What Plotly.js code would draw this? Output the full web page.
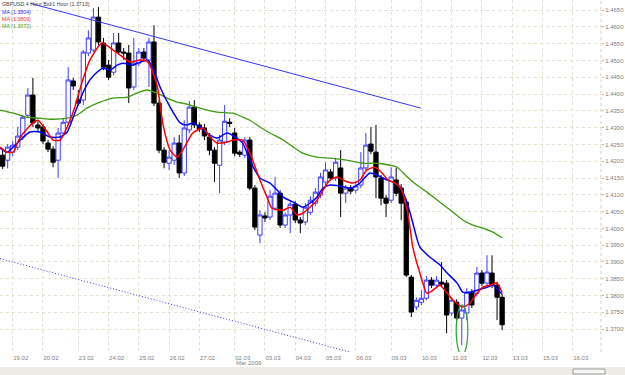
<!DOCTYPE html>
<html><head><meta charset="utf-8">
<script src="https://cdn.plot.ly/plotly-3.0.1.min.js"></script>
<style>html,body{margin:0;padding:0;background:#fff;}#chart{width:625px;height:375px;}</style>
</head><body><div id="chart"></div>
<script>
// ---- candle data (GBPUSD 4h) ----
const openP = [1.4218,1.4203,1.4227,1.4242,1.4272,1.4337,1.4397,1.4308,1.4302,1.4254,
 1.4236,1.4203,1.4284,1.4316,1.4439,1.4382,1.4382,1.4522,1.4531,1.4629,
 1.4552,1.4486,1.4465,1.4552,1.4525,1.4522,1.4421,1.4492,1.4525,1.4501,
 1.4555,1.4373,1.4233,1.4194,1.4203,1.4254,1.4165,1.4293,1.4361,1.4308,
 1.4299,1.4272,1.4233,1.4188,1.4257,1.4316,1.4284,1.4227,1.4218,1.4263,
 1.4120,1.3980,1.4037,1.4034,1.4060,1.4105,1.4010,1.4040,1.4072,1.4025,
 1.4019,1.4048,1.4075,1.4099,1.4138,1.4168,1.4150,1.4180,1.4105,1.4120,
 1.4114,1.4129,1.4180,1.4251,1.4227,1.4150,1.4090,1.4084,1.4144,1.4120,
 1.4078,1.3855,1.3766,1.3780,1.3792,1.3846,1.3831,1.3840,1.3837,1.3748,
 1.3780,1.3733,1.3748,1.3810,1.3807,1.3867,1.3837,1.3867,1.3831,1.3795];
const highP = [1.4233,1.4251,1.4260,1.4302,1.4337,1.4418,1.4448,1.4319,1.4311,1.4263,
 1.4245,1.4299,1.4328,1.4480,1.4448,1.4412,1.4531,1.4590,1.4656,1.4659,
 1.4567,1.4501,1.4582,1.4582,1.4537,1.4546,1.4567,1.4537,1.4537,1.4567,
 1.4605,1.4382,1.4242,1.4233,1.4272,1.4278,1.4322,1.4379,1.4382,1.4316,
 1.4311,1.4284,1.4242,1.4278,1.4367,1.4328,1.4299,1.4233,1.4272,1.4272,
 1.4129,1.4054,1.4048,1.4114,1.4153,1.4114,1.4048,1.4084,1.4081,1.4034,
 1.4075,1.4096,1.4120,1.4165,1.4197,1.4177,1.4209,1.4233,1.4129,1.4129,
 1.4138,1.4227,1.4284,1.4302,1.4308,1.4159,1.4099,1.4182,1.4180,1.4132,
 1.4087,1.3861,1.3795,1.3816,1.3858,1.3855,1.3858,1.3900,1.3846,1.3795,
 1.3789,1.3772,1.3822,1.3819,1.3885,1.3876,1.3920,1.3920,1.3840,1.3804];
const lowP = [1.4177,1.4179,1.4215,1.4233,1.4263,1.4328,1.4302,1.4287,1.4251,1.4227,
 1.4182,1.4150,1.4275,1.4308,1.4412,1.4364,1.4367,1.4513,1.4525,1.4546,
 1.4471,1.4442,1.4456,1.4516,1.4501,1.4373,1.4412,1.4483,1.4495,1.4421,
 1.4364,1.4224,1.4179,1.4174,1.4188,1.4150,1.4156,1.4284,1.4299,1.4287,
 1.4263,1.4218,1.4138,1.4105,1.4248,1.4302,1.4215,1.4212,1.4209,1.4114,
 1.3995,1.3956,1.4019,1.4025,1.4054,1.4001,1.4001,1.3986,1.4016,1.3986,
 1.4010,1.4040,1.4066,1.4090,1.4129,1.4141,1.4141,1.4034,1.4075,1.4102,
 1.4105,1.4120,1.4174,1.4221,1.4090,1.4069,1.4034,1.4075,1.4096,1.4025,
 1.3855,1.3736,1.3757,1.3772,1.3786,1.3822,1.3822,1.3825,1.3688,1.3739,
 1.3721,1.3652,1.3727,1.3763,1.3798,1.3828,1.3828,1.3822,1.3727,1.3697];
const closeP = [1.4185,1.4242,1.4248,1.4275,1.4331,1.4397,1.4314,1.4299,1.4260,1.4236,
 1.4197,1.4284,1.4316,1.4442,1.4424,1.4373,1.4525,1.4567,1.4629,1.4555,
 1.4480,1.4450,1.4552,1.4525,1.4522,1.4418,1.4492,1.4525,1.4507,1.4555,
 1.4373,1.4233,1.4197,1.4212,1.4254,1.4165,1.4299,1.4361,1.4308,1.4296,
 1.4275,1.4233,1.4194,1.4263,1.4319,1.4313,1.4224,1.4221,1.4263,1.4120,
 1.4004,1.4040,1.4031,1.4096,1.4105,1.4010,1.4040,1.4072,1.4025,1.4016,
 1.4063,1.4084,1.4108,1.4153,1.4174,1.4150,1.4197,1.4105,1.4120,1.4111,
 1.4126,1.4180,1.4248,1.4230,1.4153,1.4090,1.4075,1.4153,1.4105,1.4075,
 1.3861,1.3751,1.3786,1.3792,1.3846,1.3831,1.3846,1.3834,1.3742,1.3786,
 1.3733,1.3757,1.3810,1.3772,1.3867,1.3837,1.3870,1.3831,1.3795,1.3713];

// ---- moving averages (bar index / price) ----
const blueMaX = [-0.5,0.9,2.1,3.5,5.4,7.4,9.4,11.4,12.8,14.3,15.9,17.3,18.7,19.9,21.3,22.7,23.9,25.8,27.2,28.8,30.2,31.2,33.2,35.2,36.5,37.7,39.1,40.5,42.5,44.5,46.4,47.6,49.0,51.0,53.0,54.4,55.6,57.6,59.5,60.9,62.3,63.5,64.9,66.9,68.9,70.8,72.8,74.2,76.2,77.4,78.8,80.2,81.3,82.7,84.7,86.7,88.1,90.1,91.2,92.6,94.0,96.0,97.2,97.9,99.0];
const blueMaY = [1.4239,1.4227,1.4242,1.4263,1.4287,1.4287,1.4272,1.4272,1.4287,1.4343,1.4403,1.4442,1.4465,1.4477,1.4471,1.4486,1.4492,1.4486,1.4495,1.4501,1.4462,1.4421,1.4361,1.4314,1.4308,1.4314,1.4302,1.4284,1.4269,1.4284,1.4269,1.4254,1.4203,1.4150,1.4135,1.4114,1.4093,1.4078,1.4063,1.4075,1.4093,1.4120,1.4129,1.4126,1.4120,1.4135,1.4165,1.4159,1.4144,1.4138,1.4123,1.4075,1.4016,1.3944,1.3914,1.3891,1.3867,1.3837,1.3810,1.3810,1.3816,1.3825,1.3831,1.3822,1.3804];
const redMaX = [-0.5,0.9,2.1,3.5,6.0,7.0,9.0,10.0,11.4,12.8,14.3,15.7,17.3,19.7,21.9,23.3,25.3,27.2,28.8,30.6,31.8,33.2,34.6,35.7,37.7,39.7,41.1,42.5,44.5,45.7,47.6,49.0,51.0,52.4,53.4,55.6,57.0,58.3,59.5,60.9,62.3,63.5,64.9,66.3,67.9,69.4,70.8,72.2,73.8,75.2,76.4,77.8,78.8,80.2,81.3,82.7,84.1,85.3,86.7,88.1,89.3,91.2,92.6,94.0,95.2,96.6,98.0,99.0];
const redMaY = [1.4242,1.4227,1.4227,1.4272,1.4314,1.4322,1.4284,1.4263,1.4263,1.4302,1.4361,1.4433,1.4501,1.4552,1.4531,1.4516,1.4495,1.4501,1.4495,1.4427,1.4308,1.4233,1.4212,1.4233,1.4284,1.4299,1.4272,1.4254,1.4257,1.4263,1.4263,1.4224,1.4144,1.4093,1.4060,1.4054,1.4063,1.4040,1.4045,1.4063,1.4084,1.4114,1.4144,1.4153,1.4141,1.4135,1.4144,1.4174,1.4182,1.4165,1.4144,1.4135,1.4123,1.4054,1.3944,1.3867,1.3807,1.3816,1.3831,1.3807,1.3786,1.3766,1.3778,1.3807,1.3825,1.3831,1.3837,1.3809];
const greenMaX = [-0.5,2.1,4.8,7.4,9.4,12.8,14.7,16.7,19.3,21.9,24.7,26.6,28.6,30.6,32.6,34.6,36.5,39.1,42.5,45.7,47.6,49.0,51.0,53.0,55.6,57.6,59.5,62.3,64.9,68.2,71.4,74.2,76.8,78.2,80.2,82.1,84.1,86.7,89.3,91.2,93.2,95.2,97.2,99.0];
const greenMaY = [1.4352,1.4343,1.4331,1.4328,1.4325,1.4328,1.4337,1.4358,1.4376,1.4388,1.4391,1.4403,1.4412,1.4403,1.4388,1.4376,1.4370,1.4358,1.4346,1.4343,1.4331,1.4322,1.4302,1.4284,1.4263,1.4242,1.4224,1.4212,1.4209,1.4203,1.4194,1.4194,1.4188,1.4182,1.4153,1.4129,1.4108,1.4078,1.4048,1.4025,1.4010,1.4001,1.3989,1.3972];

// ---- drawn objects: trend lines and ellipse (bar index / price) ----
const trendUpX = [5.5, 82.9];
const trendUpY = [1.4670, 1.4358];
const trendDnX = [-0.52, 68.8];
const trendDnY = [1.3910, 1.3632];
const ellipseX = [89.9, 92.2];
const ellipseY = [1.3772, 1.3623];

// ---- axis labels ----
const dayTickIdx = [2,8,15,21,27,33,39,46,52,58,64,70,77,83,89,95,101,107,113];
const dayTickText = ['19.02','20.02','23.02','24.02','25.02','26.02','27.02','02.03','03.03','04.03','05.03','06.03','09.03','10.03','11.03','12.03','13.03','15.03','16.03'];
const monthLabel = 'Mar 2009';
const monthLabelIdx = 46;
const priceTicks = [1.3700,1.3750,1.3800,1.3850,1.3900,1.3950,1.4000,1.4050,1.4100,1.4150,1.4200,1.4250,1.4300,1.4350,1.4400,1.4450,1.4500,1.4550,1.4600,1.4650];
const symbolTitle = 'GBPUSD,4 Hour Bid/1 Hour';

const barIdx = openP.map((_, i) => i);
const FONT = 'Liberation Sans, Arial, sans-serif';
const GRID = '#e4e1d2';

const traces = [
  {type:'candlestick', x:barIdx, open:openP, high:highP, low:lowP, close:closeP,
   increasing:{line:{color:'#3d3dff', width:1}, fillcolor:'#ffffff'},
   decreasing:{line:{color:'#000000', width:1}, fillcolor:'#000000'},
   whiskerwidth:0, hoverinfo:'skip'},
  {type:'scatter', mode:'lines', x:greenMaX, y:greenMaY, line:{color:'#3f9a10', width:1.3, shape:'spline', smoothing:0.6}, hoverinfo:'skip'},
  {type:'scatter', mode:'lines', x:blueMaX, y:blueMaY, line:{color:'#0000ff', width:1.5, shape:'spline', smoothing:0.6}, hoverinfo:'skip'},
  {type:'scatter', mode:'lines', x:redMaX, y:redMaY, line:{color:'#ff0000', width:1.5, shape:'spline', smoothing:0.6}, hoverinfo:'skip'},
  {type:'scatter', mode:'lines', x:trendUpX, y:trendUpY, line:{color:'#3535f5', width:1}, hoverinfo:'skip'},
  {type:'scatter', mode:'lines', x:trendDnX, y:trendDnY, line:{color:'#3535f5', width:1, dash:'1px,2px'}, hoverinfo:'skip'}
];

const lastOf = a => a[a.length-1].toFixed(4);
const legendLines = [
  {text: symbolTitle + ' (' + lastOf(closeP) + ')', color:'#444444', ypx:4},
  {text: 'MA (' + lastOf(blueMaY) + ')', color:'#2b2bff', ypx:11.5},
  {text: 'MA (' + lastOf(redMaY) + ')', color:'#f03030', ypx:18.5},
  {text: 'MA (' + lastOf(greenMaY) + ')', color:'#4e9e1a', ypx:25.5}
];
const PLOT_H = 352;

const annotations = legendLines.map(l => ({
  xref:'paper', yref:'paper', x:0.002, y:1 - l.ypx/PLOT_H, xanchor:'left', yanchor:'middle',
  text:l.text, showarrow:false, font:{family:FONT, size:5.3, color:l.color}, borderpad:0
}));
annotations.push({xref:'x', yref:'paper', x:monthLabelIdx, y:1 - 363/PLOT_H, xanchor:'left', yanchor:'middle', xshift:0,
  text:monthLabel, showarrow:false, font:{family:FONT, size:6, color:'#808080'}, borderpad:0});

const shapes = [
  {type:'circle', xref:'x', yref:'y', x0:ellipseX[0], x1:ellipseX[1], y0:ellipseY[0], y1:ellipseY[1], line:{color:'#2ea02e', width:1.2}},
  {type:'line', xref:'paper', yref:'paper', x0:1, x1:1, y0:0, y1:1, line:{color:'#d0d0c8', width:1, dash:'dot'}},
  {type:'rect', xref:'paper', yref:'paper', x0:-0.01, x1:1.05, y0:-0.07, y1:1 - 367/PLOT_H, line:{width:0}, fillcolor:'#ecebe4', layer:'below'},
  {type:'rect', xref:'paper', yref:'paper', x0:573/601, x1:605/601, y0:1-374/PLOT_H, y1:1-369/PLOT_H, line:{color:'#9a9a9a', width:1}, fillcolor:'#f6f6f6'}
];

const layout = {
  width:625, height:375,
  margin:{l:0, r:24, t:0, b:23, pad:0},
  paper_bgcolor:'#ffffff', plot_bgcolor:'#ffffff',
  showlegend:false,
  boxgap:0.15, boxgroupgap:0,
  xaxis:{type:'linear', range:[-0.52, 118.6], tickmode:'array', tickvals:dayTickIdx, ticktext:dayTickText,
    showgrid:true, gridcolor:GRID, griddash:'dot', gridwidth:1, zeroline:false, showline:false, ticks:'',
    tickfont:{family:FONT, size:6, color:'#808080'}, ticklabelshift:8, ticklabelstandoff:1,
    rangeslider:{visible:false}, fixedrange:true},
  yaxis:{side:'right', range:[1.3632, 1.4680], tickmode:'array', tickvals:priceTicks,
    ticktext:priceTicks.map(v => v.toFixed(4)),
    showgrid:true, gridcolor:GRID, griddash:'dot', gridwidth:1, zeroline:false, showline:false,
    ticks:'outside', ticklen:2, tickcolor:'#b8b8b8',
    tickfont:{family:FONT, size:6, color:'#808080'}, fixedrange:true},
  shapes:shapes,
  annotations:annotations
};

Plotly.newPlot('chart', traces, layout, {staticPlot:true, displayModeBar:false});
</script></body></html>
